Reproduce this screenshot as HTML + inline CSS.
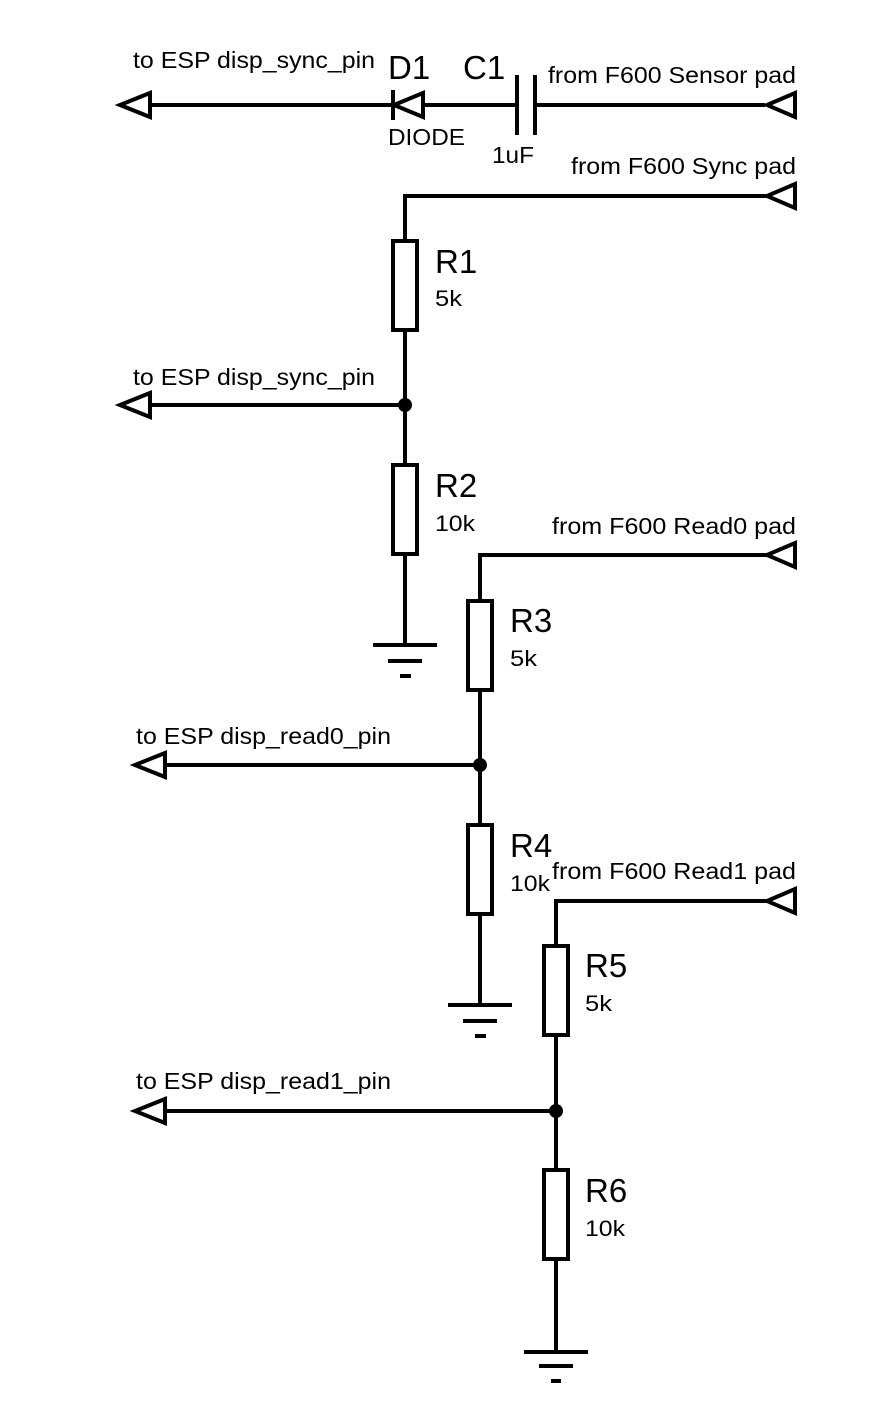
<!DOCTYPE html>
<html><head><meta charset="utf-8"><style>html,body{margin:0;padding:0;background:#fff}svg{display:block}</style></head>
<body>
<svg width="871" height="1426" viewBox="0 0 871 1426" xmlns="http://www.w3.org/2000/svg" font-family="Liberation Sans, Arial, sans-serif">
<g stroke="#000" stroke-width="4" fill="none" stroke-linecap="butt">
<line x1="150" y1="105" x2="393" y2="105"/>
<line x1="425" y1="105" x2="517" y2="105"/>
<line x1="535" y1="105" x2="765" y2="105"/>
<polygon points="120,105 150,93 150,117"/>
<polygon points="767,105 795,93 795,117"/>
<line x1="393" y1="90" x2="393" y2="120"/>
<polygon points="394,105 423,93 423,117" />
<line x1="517" y1="75" x2="517" y2="135"/>
<line x1="535" y1="75" x2="535" y2="135"/>

<polyline points="405,240 405,196 767,196"/>
<polygon points="767,196 795,184 795,208"/>
<rect x="393" y="241" width="24" height="89" fill="#fff"/>
<line x1="405" y1="330" x2="405" y2="465"/>
<line x1="150" y1="405" x2="405" y2="405"/>
<polygon points="120,405 150,393 150,417"/>
<rect x="393" y="465" width="24" height="89" fill="#fff"/>
<line x1="405" y1="554" x2="405" y2="645"/>
<line x1="373" y1="645" x2="437" y2="645"/>
<line x1="388" y1="661" x2="422" y2="661"/>
<line x1="400" y1="676" x2="411" y2="676"/>

<polyline points="480,600 480,555 767,555"/>
<polygon points="767,555 795,543 795,567"/>
<rect x="468" y="601" width="24" height="89" fill="#fff"/>
<line x1="480" y1="690" x2="480" y2="825"/>
<line x1="165" y1="765" x2="480" y2="765"/>
<polygon points="135,765 165,753 165,777"/>
<rect x="468" y="825" width="24" height="89" fill="#fff"/>
<line x1="480" y1="914" x2="480" y2="1005"/>
<line x1="448" y1="1005" x2="512" y2="1005"/>
<line x1="463" y1="1021" x2="497" y2="1021"/>
<line x1="475" y1="1036" x2="486" y2="1036"/>

<polyline points="556,945 556,901 767,901"/>
<polygon points="767,901 795,889 795,913"/>
<rect x="544" y="946" width="24" height="89" fill="#fff"/>
<line x1="556" y1="1035" x2="556" y2="1170"/>
<line x1="165" y1="1111" x2="556" y2="1111"/>
<polygon points="135,1111 165,1099 165,1123"/>
<rect x="544" y="1170" width="24" height="89" fill="#fff"/>
<line x1="556" y1="1259" x2="556" y2="1352"/>
<line x1="524" y1="1352" x2="588" y2="1352"/>
<line x1="539" y1="1366" x2="573" y2="1366"/>
<line x1="551" y1="1381" x2="561" y2="1381"/>
</g>
<g fill="#000">
<circle cx="405" cy="405" r="7"/>
<circle cx="480" cy="765" r="7"/>
<circle cx="556" cy="1111" r="7"/>
</g>
<g fill="#000" font-size="23">
<text x="133" y="68" textLength="242" lengthAdjust="spacingAndGlyphs">to ESP disp_sync_pin</text>
<text x="548" y="83" textLength="248" lengthAdjust="spacingAndGlyphs">from F600 Sensor pad</text>
<text x="388" y="145" textLength="77" lengthAdjust="spacingAndGlyphs">DIODE</text>
<text x="492" y="163" textLength="42" lengthAdjust="spacingAndGlyphs">1uF</text>
<text x="571" y="174" textLength="225" lengthAdjust="spacingAndGlyphs">from F600 Sync pad</text>
<text x="133" y="385" textLength="242" lengthAdjust="spacingAndGlyphs">to ESP disp_sync_pin</text>
<text x="552" y="534" textLength="244" lengthAdjust="spacingAndGlyphs">from F600 Read0 pad</text>
<text x="136" y="744" textLength="255" lengthAdjust="spacingAndGlyphs">to ESP disp_read0_pin</text>
<text x="552" y="879" textLength="244" lengthAdjust="spacingAndGlyphs">from F600 Read1 pad</text>
<text x="136" y="1089" textLength="255" lengthAdjust="spacingAndGlyphs">to ESP disp_read1_pin</text>
</g>
<g fill="#000" font-size="22">
<text x="435" y="306" textLength="27" lengthAdjust="spacingAndGlyphs">5k</text>
<text x="435" y="531" textLength="40" lengthAdjust="spacingAndGlyphs">10k</text>
<text x="510" y="666" textLength="27" lengthAdjust="spacingAndGlyphs">5k</text>
<text x="510" y="891" textLength="40" lengthAdjust="spacingAndGlyphs">10k</text>
<text x="585" y="1011" textLength="27" lengthAdjust="spacingAndGlyphs">5k</text>
<text x="585" y="1236" textLength="40" lengthAdjust="spacingAndGlyphs">10k</text>
</g>
<g fill="#000" font-size="33">
<text x="388" y="79">D1</text>
<text x="463" y="79">C1</text>
<text x="435" y="273">R1</text>
<text x="435" y="497">R2</text>
<text x="510" y="632">R3</text>
<text x="510" y="857">R4</text>
<text x="585" y="977">R5</text>
<text x="585" y="1202">R6</text>
</g>
</svg>
</body></html>
